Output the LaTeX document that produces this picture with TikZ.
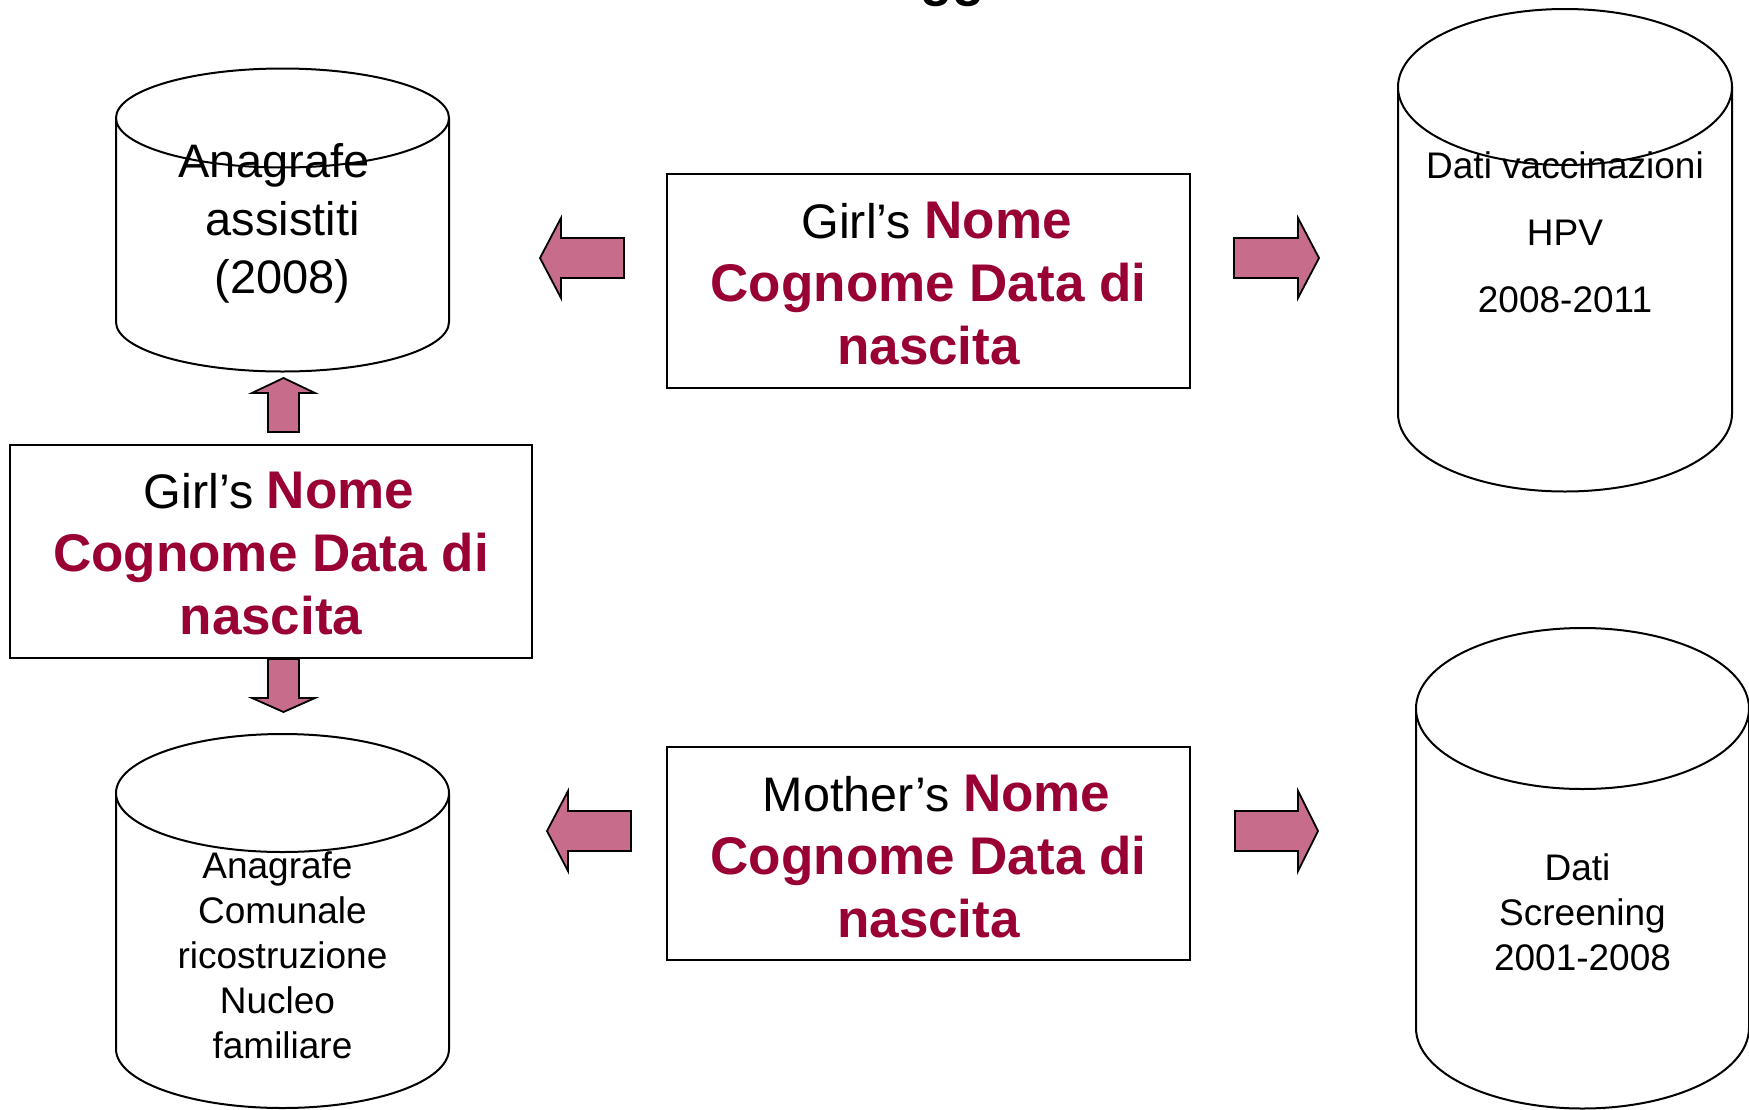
\documentclass[tikz,border=0pt]{standalone}
\usepackage{fontspec}
\setmainfont{Liberation Sans}
\definecolor{wine}{RGB}{153,0,51}
\definecolor{arrowpink}{RGB}{199,108,138}
\newcommand\dbcyl[5]{% cx, rx, top cy, bottom cy, ry
  \fill[white] (#1-#2,#3) -- (#1-#2,#4) arc[start angle=180,end angle=0,x radius=#2,y radius=#5] -- (#1+#2,#3) -- cycle;
  \draw[cylline] (#1-#2,#3) -- (#1-#2,#4) arc[start angle=180,end angle=0,x radius=#2,y radius=#5] -- (#1+#2,#3);
  \draw[cylline,fill=white] (#1,#3) ellipse[x radius=#2,y radius=#5];
}
\begin{document}
\begin{tikzpicture}[x=1pt,y=-1pt,
  cylline/.style={draw=black,line width=2pt},
  databox/.style={draw=black,line width=2pt,fill=white,rectangle,inner sep=0pt},
  barrow/.style={draw=black,fill=arrowpink,line width=1.8pt,line join=miter},
  txt/.style={anchor=base,inner sep=0pt,text=black},
  boxfont/.style={font=\fontsize{53}{63}\selectfont},
]
\useasboundingbox (0,0) rectangle (1749,1109);

% title remnant (cut off at top edge)
\node[anchor=base west,inner sep=0pt,font=\fontsize{53}{63}\selectfont\bfseries] (title) at (920,-5) {gg};

% cylinders
\dbcyl{282.5}{166.5}{118}{322}{49.5}
\dbcyl{1565}{167}{87}{413.5}{78}
\dbcyl{282.5}{166.5}{793}{1049}{59}
\dbcyl{1582.5}{166.5}{708.5}{1028}{80.5}

\node[txt,font=\fontsize{47}{58}\selectfont] (anagA) at (282.5,177)
  {\begin{tabular}[t]{@{}c@{}}Anagrafe\hspace*{17pt}\\assistiti\\(2008)\end{tabular}};
\node[txt,font=\fontsize{37}{67}\selectfont] (vacc) at (1565,178)
  {\begin{tabular}[t]{@{}c@{}}Dati vaccinazioni\\HPV\\2008-2011\end{tabular}};
\node[txt,font=\fontsize{37}{45}\selectfont] (anagC) at (282.5,878)
  {\begin{tabular}[t]{@{}c@{}}Anagrafe\hspace*{10pt}\\Comunale\\ricostruzione\\Nucleo\hspace*{10pt}\\familiare\end{tabular}};
\node[txt,font=\fontsize{37}{45}\selectfont] (screen) at (1582.5,880)
  {\begin{tabular}[t]{@{}c@{}}Dati\hspace*{10pt}\\Screening\\2001-2008\end{tabular}};

% boxes
\node[databox,minimum width=523pt,minimum height=214pt] (girlTop) at (928.5,281) {};
\node[databox,minimum width=522pt,minimum height=213pt] (girlLeft) at (271,551.5) {};
\node[databox,minimum width=523pt,minimum height=213pt] (mother) at (928.5,853.5) {};

\node[txt,boxfont] (girlTopT) at (928.5,238)
  {\begin{tabular}[t]{@{}c@{}}\hspace*{16pt}{\fontsize{48.5}{63}\selectfont Girl’s }\textcolor{wine}{\bfseries Nome}\\\textcolor{wine}{\bfseries Cognome Data di}\\\textcolor{wine}{\bfseries nascita}\end{tabular}};
\node[txt,boxfont] (girlLeftT) at (271,508)
  {\begin{tabular}[t]{@{}c@{}}\hspace*{16pt}{\fontsize{48.5}{63}\selectfont Girl’s }\textcolor{wine}{\bfseries Nome}\\\textcolor{wine}{\bfseries Cognome Data di}\\\textcolor{wine}{\bfseries nascita}\end{tabular}};
\node[txt,boxfont] (motherT) at (928.5,811)
  {\begin{tabular}[t]{@{}c@{}}\hspace*{16pt}{\fontsize{48.5}{63}\selectfont Mother’s }\textcolor{wine}{\bfseries Nome}\\\textcolor{wine}{\bfseries Cognome Data di}\\\textcolor{wine}{\bfseries nascita}\end{tabular}};

% block arrows
\draw[barrow] (624,238) -- (561,238) -- (561,218) -- (540,258) -- (561,298) -- (561,278) -- (624,278) -- cycle;
\draw[barrow] (1234,238) -- (1298,238) -- (1298,218) -- (1319,258) -- (1298,298) -- (1298,278) -- (1234,278) -- cycle;
\draw[barrow] (631,811) -- (568,811) -- (568,791) -- (547,831) -- (568,871) -- (568,851) -- (631,851) -- cycle;
\draw[barrow] (1235,811) -- (1298,811) -- (1298,791) -- (1318,831) -- (1298,871) -- (1298,851) -- (1235,851) -- cycle;
\draw[barrow] (268,432) -- (268,393) -- (252,393) -- (283.5,378) -- (315,393) -- (299,393) -- (299,432) -- cycle;
\draw[barrow] (268,659) -- (268,698) -- (252,698) -- (283.5,712) -- (315,698) -- (299,698) -- (299,659) -- cycle;
\end{tikzpicture}
\end{document}
